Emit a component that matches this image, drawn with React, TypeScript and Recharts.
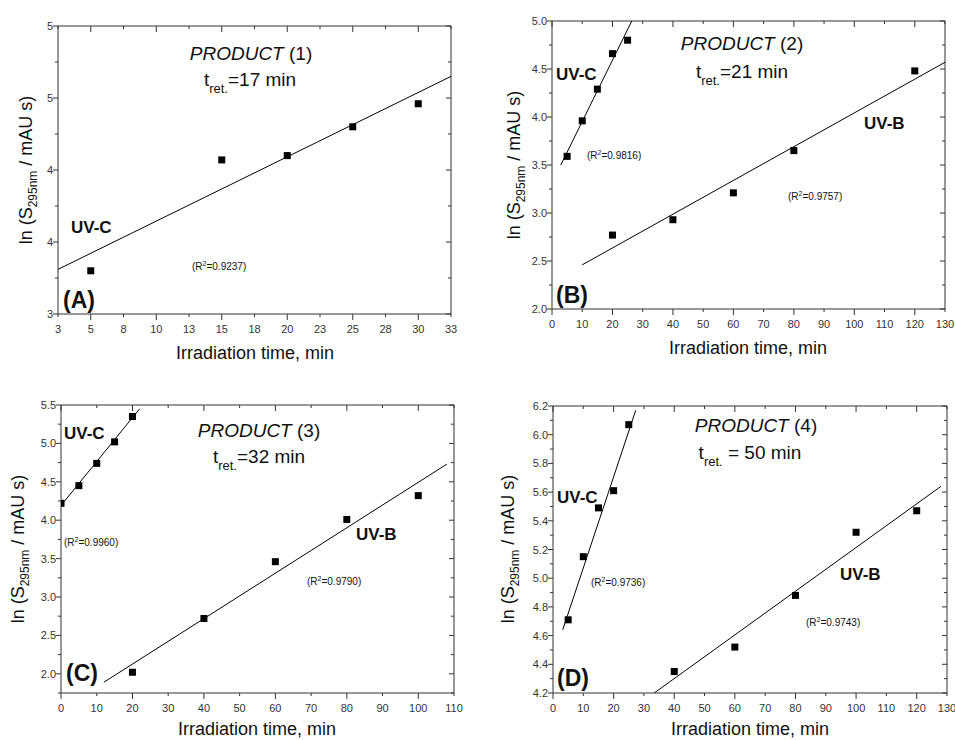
import React from "react";
import { Scatter, ScatterChart, XAxis, YAxis } from "recharts";

const FONT = '"Liberation Sans", Arial, Helvetica, sans-serif';
const AXIS = "#333";

// (A) product 1, UV-C only
const xTicksA = [2.5, 5, 7.5, 10, 12.5, 15, 17.5, 20, 22.5, 25, 27.5, 30, 32.5];
const xLabelsA = ["3", "5", "8", "10", "13", "15", "18", "20", "23", "25", "28", "30", "33"];
const xMajorA = [5, 10, 15, 20, 25, 30];
const yTicksA = [3, 3.5, 4, 4.5, 5];
const yLabelsA = ["3", "4", "4", "5", "5"];
const yMinorA = [3.25, 3.75, 4.25, 4.75];
const uvcTimeA = [5, 15, 20, 25, 30];
const uvcLnA = [3.3, 4.07, 4.1, 4.3, 4.46];
const uvcFitTimeA = [2.5, 32.5];
const uvcFitLnA = [3.31, 4.65];

// (B) product 2
const xTicksB = [0, 10, 20, 30, 40, 50, 60, 70, 80, 90, 100, 110, 120, 130];
const xMajorB = [0, 20, 40, 60, 80, 100, 120];
const yTicksB = [2.0, 2.5, 3.0, 3.5, 4.0, 4.5, 5.0];
const yMinorB = [2.25, 2.75, 3.25, 3.75, 4.25, 4.75];
const uvcTimeB = [5, 10, 15, 20, 25];
const uvcLnB = [3.59, 3.96, 4.29, 4.66, 4.8];
const uvcFitTimeB = [2.9, 26.4];
const uvcFitLnB = [3.5, 5.0];
const uvbTimeB = [20, 40, 60, 80, 120];
const uvbLnB = [2.77, 2.93, 3.21, 3.65, 4.48];
const uvbFitTimeB = [10, 130];
const uvbFitLnB = [2.46, 4.57];

// (C) product 3
const xTicksC = [0, 10, 20, 30, 40, 50, 60, 70, 80, 90, 100, 110];
const xMajorC = [0, 20, 40, 60, 80, 100];
const yTicksC = [2.0, 2.5, 3.0, 3.5, 4.0, 4.5, 5.0, 5.5];
const yMinorC = [1.75, 2.25, 2.75, 3.25, 3.75, 4.25, 4.75, 5.25];
const uvcTimeC = [0, 5, 10, 15, 20];
const uvcLnC = [4.22, 4.45, 4.74, 5.02, 5.35];
const uvcFitTimeC = [0.5, 22];
const uvcFitLnC = [4.22, 5.45];
const uvbTimeC = [20, 40, 60, 80, 100];
const uvbLnC = [2.02, 2.72, 3.46, 4.01, 4.32];
const uvbFitTimeC = [12, 108];
const uvbFitLnC = [1.89, 4.73];

// (D) product 4
const xTicksD = [0, 10, 20, 30, 40, 50, 60, 70, 80, 90, 100, 110, 120, 130];
const xMajorD = [0, 20, 40, 60, 80, 100, 120];
const yTicksD = [4.2, 4.4, 4.6, 4.8, 5.0, 5.2, 5.4, 5.6, 5.8, 6.0, 6.2];
const yMinorD = [4.3, 4.5, 4.7, 4.9, 5.1, 5.3, 5.5, 5.7, 5.9, 6.1];
const uvcTimeD = [5, 10, 15, 20, 25];
const uvcLnD = [4.71, 5.15, 5.49, 5.61, 6.07];
const uvcFitTimeD = [3.2, 27.3];
const uvcFitLnD = [4.64, 6.17];
const uvbTimeD = [40, 60, 80, 100, 120];
const uvbLnD = [4.35, 4.52, 4.88, 5.32, 5.47];
const uvbFitTimeD = [33.4, 128];
const uvbFitLnD = [4.2, 5.64];

const pts = (xs: number[], ys: number[]) => xs.map((x, i) => ({ x, y: ys[i] }));
const has = (arr: number[], v: number) => arr.some((a) => Math.abs(a - v) < 1e-6);
const fixed1 = (arr: number[]) => arr.map((v) => v.toFixed(1));
const ints = (arr: number[]) => arr.map((v) => String(v));

const ML = 60;
const MT = 10;
const MR = 12;
const XH = 50;

type Series = { points: { x: number; y: number }[]; fit: { x: number; y: number }[] };

type PanelProps = {
  box: { left: number; top: number; width: number; height: number };
  xDomain: [number, number];
  xTicks: number[];
  xLabels: string[];
  xMajor: number[];
  yDomain: [number, number];
  yTicks: number[];
  yLabels: string[];
  yMinor: number[];
  series: Series[];
};

function Square(p: any) {
  if (p.cx == null || p.cy == null) return <g />;
  return <rect x={p.cx - 3.5} y={p.cy - 3.5} width={7} height={7} fill="#000" />;
}

function Panel({ box, xDomain, xTicks, xLabels, xMajor, yDomain, yTicks, yLabels, yMinor, series }: PanelProps) {
  const yAll = [...yTicks, ...yMinor].sort((a, b) => a - b);

  const bottomTick = (p: any) => {
    const v = p.payload.value;
    const i = xTicks.findIndex((t) => Math.abs(t - v) < 1e-6);
    const len = has(xMajor, v) ? 6 : 3;
    return (
      <g>
        <line x1={p.x} y1={p.y} x2={p.x} y2={p.y + len} stroke={AXIS} />
        <text x={p.x} y={p.y + 19} textAnchor="middle" fontSize={11} fill="#333" fontFamily={FONT}>
          {i >= 0 ? xLabels[i] : ""}
        </text>
      </g>
    );
  };
  const topTick = (p: any) => {
    const len = has(xMajor, p.payload.value) ? 6 : 3;
    return <line x1={p.x} y1={p.y} x2={p.x} y2={p.y + len} stroke={AXIS} />;
  };
  const leftTick = (p: any) => {
    const v = p.payload.value;
    const i = yTicks.findIndex((t) => Math.abs(t - v) < 1e-6);
    const len = i >= 0 ? 5 : 3;
    return (
      <g>
        <line x1={p.x} y1={p.y} x2={p.x - len} y2={p.y} stroke={AXIS} />
        {i >= 0 && (
          <text x={p.x - 5} y={p.y + 4} textAnchor="end" fontSize={11} fill="#333" fontFamily={FONT}>
            {yLabels[i]}
          </text>
        )}
      </g>
    );
  };
  const rightTick = (p: any) => {
    const len = has(yTicks, p.payload.value) ? 5 : 3;
    return <line x1={p.x} y1={p.y} x2={p.x - len} y2={p.y} stroke={AXIS} />;
  };

  return (
    <div style={{ position: "absolute", left: box.left - ML, top: box.top - MT }}>
      <ScatterChart
        width={box.width + ML + MR}
        height={box.height + MT + XH}
        margin={{ top: MT - 1, right: MR - 1, left: 0, bottom: 0 }}
      >
        <XAxis
          xAxisId="b"
          type="number"
          dataKey="x"
          orientation="bottom"
          domain={xDomain}
          ticks={xTicks}
          interval={0}
          height={XH}
          tickSize={0}
          tickMargin={0}
          tickLine={false}
          axisLine={{ stroke: AXIS }}
          tick={bottomTick}
          allowDataOverflow
        />
        <XAxis
          xAxisId="t"
          type="number"
          dataKey="x"
          orientation="top"
          domain={xDomain}
          ticks={xTicks}
          interval={0}
          height={1}
          tickSize={0}
          tickMargin={0}
          tickLine={false}
          axisLine={{ stroke: AXIS }}
          tick={topTick}
          allowDataOverflow
        />
        <YAxis
          yAxisId="l"
          type="number"
          dataKey="y"
          orientation="left"
          domain={yDomain}
          ticks={yAll}
          interval={0}
          width={ML}
          tickSize={0}
          tickMargin={0}
          tickLine={false}
          axisLine={{ stroke: AXIS }}
          tick={leftTick}
          allowDataOverflow
        />
        <YAxis
          yAxisId="r"
          type="number"
          dataKey="y"
          orientation="right"
          domain={yDomain}
          ticks={yAll}
          interval={0}
          width={1}
          tickSize={0}
          tickMargin={0}
          tickLine={false}
          axisLine={{ stroke: AXIS }}
          tick={rightTick}
          allowDataOverflow
        />
        {series.map((s, i) => (
          <Scatter
            key={`fit${i}`}
            xAxisId="b"
            yAxisId="l"
            data={s.fit}
            line={{ stroke: "#000", strokeWidth: 1 }}
            shape={() => <g />}
            isAnimationActive={false}
          />
        ))}
        {series.map((s, i) => (
          <Scatter
            key={`pts${i}`}
            xAxisId="b"
            yAxisId="l"
            data={s.points}
            shape={Square}
            isAnimationActive={false}
          />
        ))}
        {/* invisible copies bound to the frame axes so they get drawn */}
        <Scatter xAxisId="t" yAxisId="r" data={series[0].points} shape={() => <g />} isAnimationActive={false} />
      </ScatterChart>
    </div>
  );
}

function Note({ x, y, center, style, children }: any) {
  return (
    <div
      style={{
        position: "absolute",
        left: x,
        top: y,
        transform: center ? "translate(-50%, -50%)" : "translate(0, -50%)",
        whiteSpace: "nowrap",
        lineHeight: 1,
        ...style,
      }}
    >
      {children}
    </div>
  );
}

const titleStyle = { fontSize: 19 };
const uvStyle = { fontSize: 17, fontWeight: 700 };
const letterStyle = { fontSize: 23, fontWeight: 700 };
const r2Style = { fontSize: 10 };
const axisTitleStyle = { fontSize: 18 };

function Product({ x, y, n }: { x: number; y: number; n: number }) {
  return (
    <Note x={x} y={y} center style={titleStyle}>
      <i>PRODUCT</i> ({n})
    </Note>
  );
}

function Tret({ x, y, text }: { x: number; y: number; text: string }) {
  return (
    <Note x={x} y={y} center style={{ fontSize: 19 }}>
      t<span style={{ fontSize: 13, position: "relative", top: 7 }}>ret.</span>
      {text}
    </Note>
  );
}

function R2({ x, y, value }: { x: number; y: number; value: string }) {
  return (
    <Note x={x} y={y} style={r2Style}>
      (R<span style={{ fontSize: 7, position: "relative", top: -4 }}>2</span>={value})
    </Note>
  );
}

function YTitle({ x, y }: { x: number; y: number }) {
  return (
    <div
      style={{
        position: "absolute",
        left: x,
        top: y,
        transform: "translate(-50%, -50%) rotate(-90deg)",
        whiteSpace: "nowrap",
        lineHeight: 1,
        ...axisTitleStyle,
      }}
    >
      ln (S<span style={{ fontSize: 12, position: "relative", top: 5 }}>295nm</span> / mAU s)
    </div>
  );
}

function XTitle({ x, y }: { x: number; y: number }) {
  return (
    <Note x={x} y={y} center style={axisTitleStyle}>
      Irradiation time, min
    </Note>
  );
}

export default function App() {
  return (
    <div
      style={{
        position: "absolute",
        left: 0,
        top: 0,
        width: 955,
        height: 740,
        background: "#fff",
        fontFamily: FONT,
        color: "#111",
        overflow: "hidden",
      }}
    >
      <Panel
        box={{ left: 58, top: 26, width: 393, height: 288 }}
        xDomain={[2.5, 32.5]}
        xTicks={xTicksA}
        xLabels={xLabelsA}
        xMajor={xMajorA}
        yDomain={[3, 5]}
        yTicks={yTicksA}
        yLabels={yLabelsA}
        yMinor={yMinorA}
        series={[{ points: pts(uvcTimeA, uvcLnA), fit: pts(uvcFitTimeA, uvcFitLnA) }]}
      />
      <Panel
        box={{ left: 552, top: 21, width: 393, height: 288 }}
        xDomain={[0, 130]}
        xTicks={xTicksB}
        xLabels={ints(xTicksB)}
        xMajor={xMajorB}
        yDomain={[2, 5]}
        yTicks={yTicksB}
        yLabels={fixed1(yTicksB)}
        yMinor={yMinorB}
        series={[
          { points: pts(uvcTimeB, uvcLnB), fit: pts(uvcFitTimeB, uvcFitLnB) },
          { points: pts(uvbTimeB, uvbLnB), fit: pts(uvbFitTimeB, uvbFitLnB) },
        ]}
      />
      <Panel
        box={{ left: 61, top: 405, width: 393, height: 288 }}
        xDomain={[0, 110]}
        xTicks={xTicksC}
        xLabels={ints(xTicksC)}
        xMajor={xMajorC}
        yDomain={[1.75, 5.5]}
        yTicks={yTicksC}
        yLabels={fixed1(yTicksC)}
        yMinor={yMinorC}
        series={[
          { points: pts(uvcTimeC, uvcLnC), fit: pts(uvcFitTimeC, uvcFitLnC) },
          { points: pts(uvbTimeC, uvbLnC), fit: pts(uvbFitTimeC, uvbFitLnC) },
        ]}
      />
      <Panel
        box={{ left: 553, top: 406, width: 394, height: 287 }}
        xDomain={[0, 130]}
        xTicks={xTicksD}
        xLabels={ints(xTicksD)}
        xMajor={xMajorD}
        yDomain={[4.2, 6.2]}
        yTicks={yTicksD}
        yLabels={fixed1(yTicksD)}
        yMinor={yMinorD}
        series={[
          { points: pts(uvcTimeD, uvcLnD), fit: pts(uvcFitTimeD, uvcFitLnD) },
          { points: pts(uvbTimeD, uvbLnD), fit: pts(uvbFitTimeD, uvbFitLnD) },
        ]}
      />

      {/* (A) */}
      <Product x={251} y={53} n={1} />
      <Tret x={250} y={79} text="=17 min" />
      <Note x={71} y={227} style={uvStyle}>UV-C</Note>
      <R2 x={192} y={267} value="0.9237" />
      <Note x={63} y={300} style={letterStyle}>(A)</Note>
      <YTitle x={26} y={170} />
      <XTitle x={255} y={353} />

      {/* (B) */}
      <Product x={742} y={43} n={2} />
      <Tret x={742} y={71} text="=21 min" />
      <Note x={556} y={74} style={uvStyle}>UV-C</Note>
      <R2 x={587} y={156} value="0.9816" />
      <Note x={864} y={123} style={uvStyle}>UV-B</Note>
      <R2 x={788} y={197} value="0.9757" />
      <Note x={556} y={295} style={letterStyle}>(B)</Note>
      <YTitle x={514} y={165} />
      <XTitle x={748} y={348} />

      {/* (C) */}
      <Product x={259} y={430} n={3} />
      <Tret x={259} y={456} text="=32 min" />
      <Note x={64} y={433} style={uvStyle}>UV-C</Note>
      <R2 x={64} y={543} value="0.9960" />
      <Note x={356} y={534} style={uvStyle}>UV-B</Note>
      <R2 x={307} y={582} value="0.9790" />
      <Note x={66} y={673} style={letterStyle}>(C)</Note>
      <YTitle x={18} y={549} />
      <XTitle x={257} y={729} />

      {/* (D) */}
      <Product x={756} y={425} n={4} />
      <Tret x={750} y={452} text=" = 50 min" />
      <Note x={557} y={497} style={uvStyle}>UV-C</Note>
      <R2 x={591} y={583} value="0.9736" />
      <Note x={840} y={574} style={uvStyle}>UV-B</Note>
      <R2 x={806} y={623} value="0.9743" />
      <Note x={557} y={678} style={letterStyle}>(D)</Note>
      <YTitle x={508} y={549} />
      <XTitle x={750} y={729} />
    </div>
  );
}
